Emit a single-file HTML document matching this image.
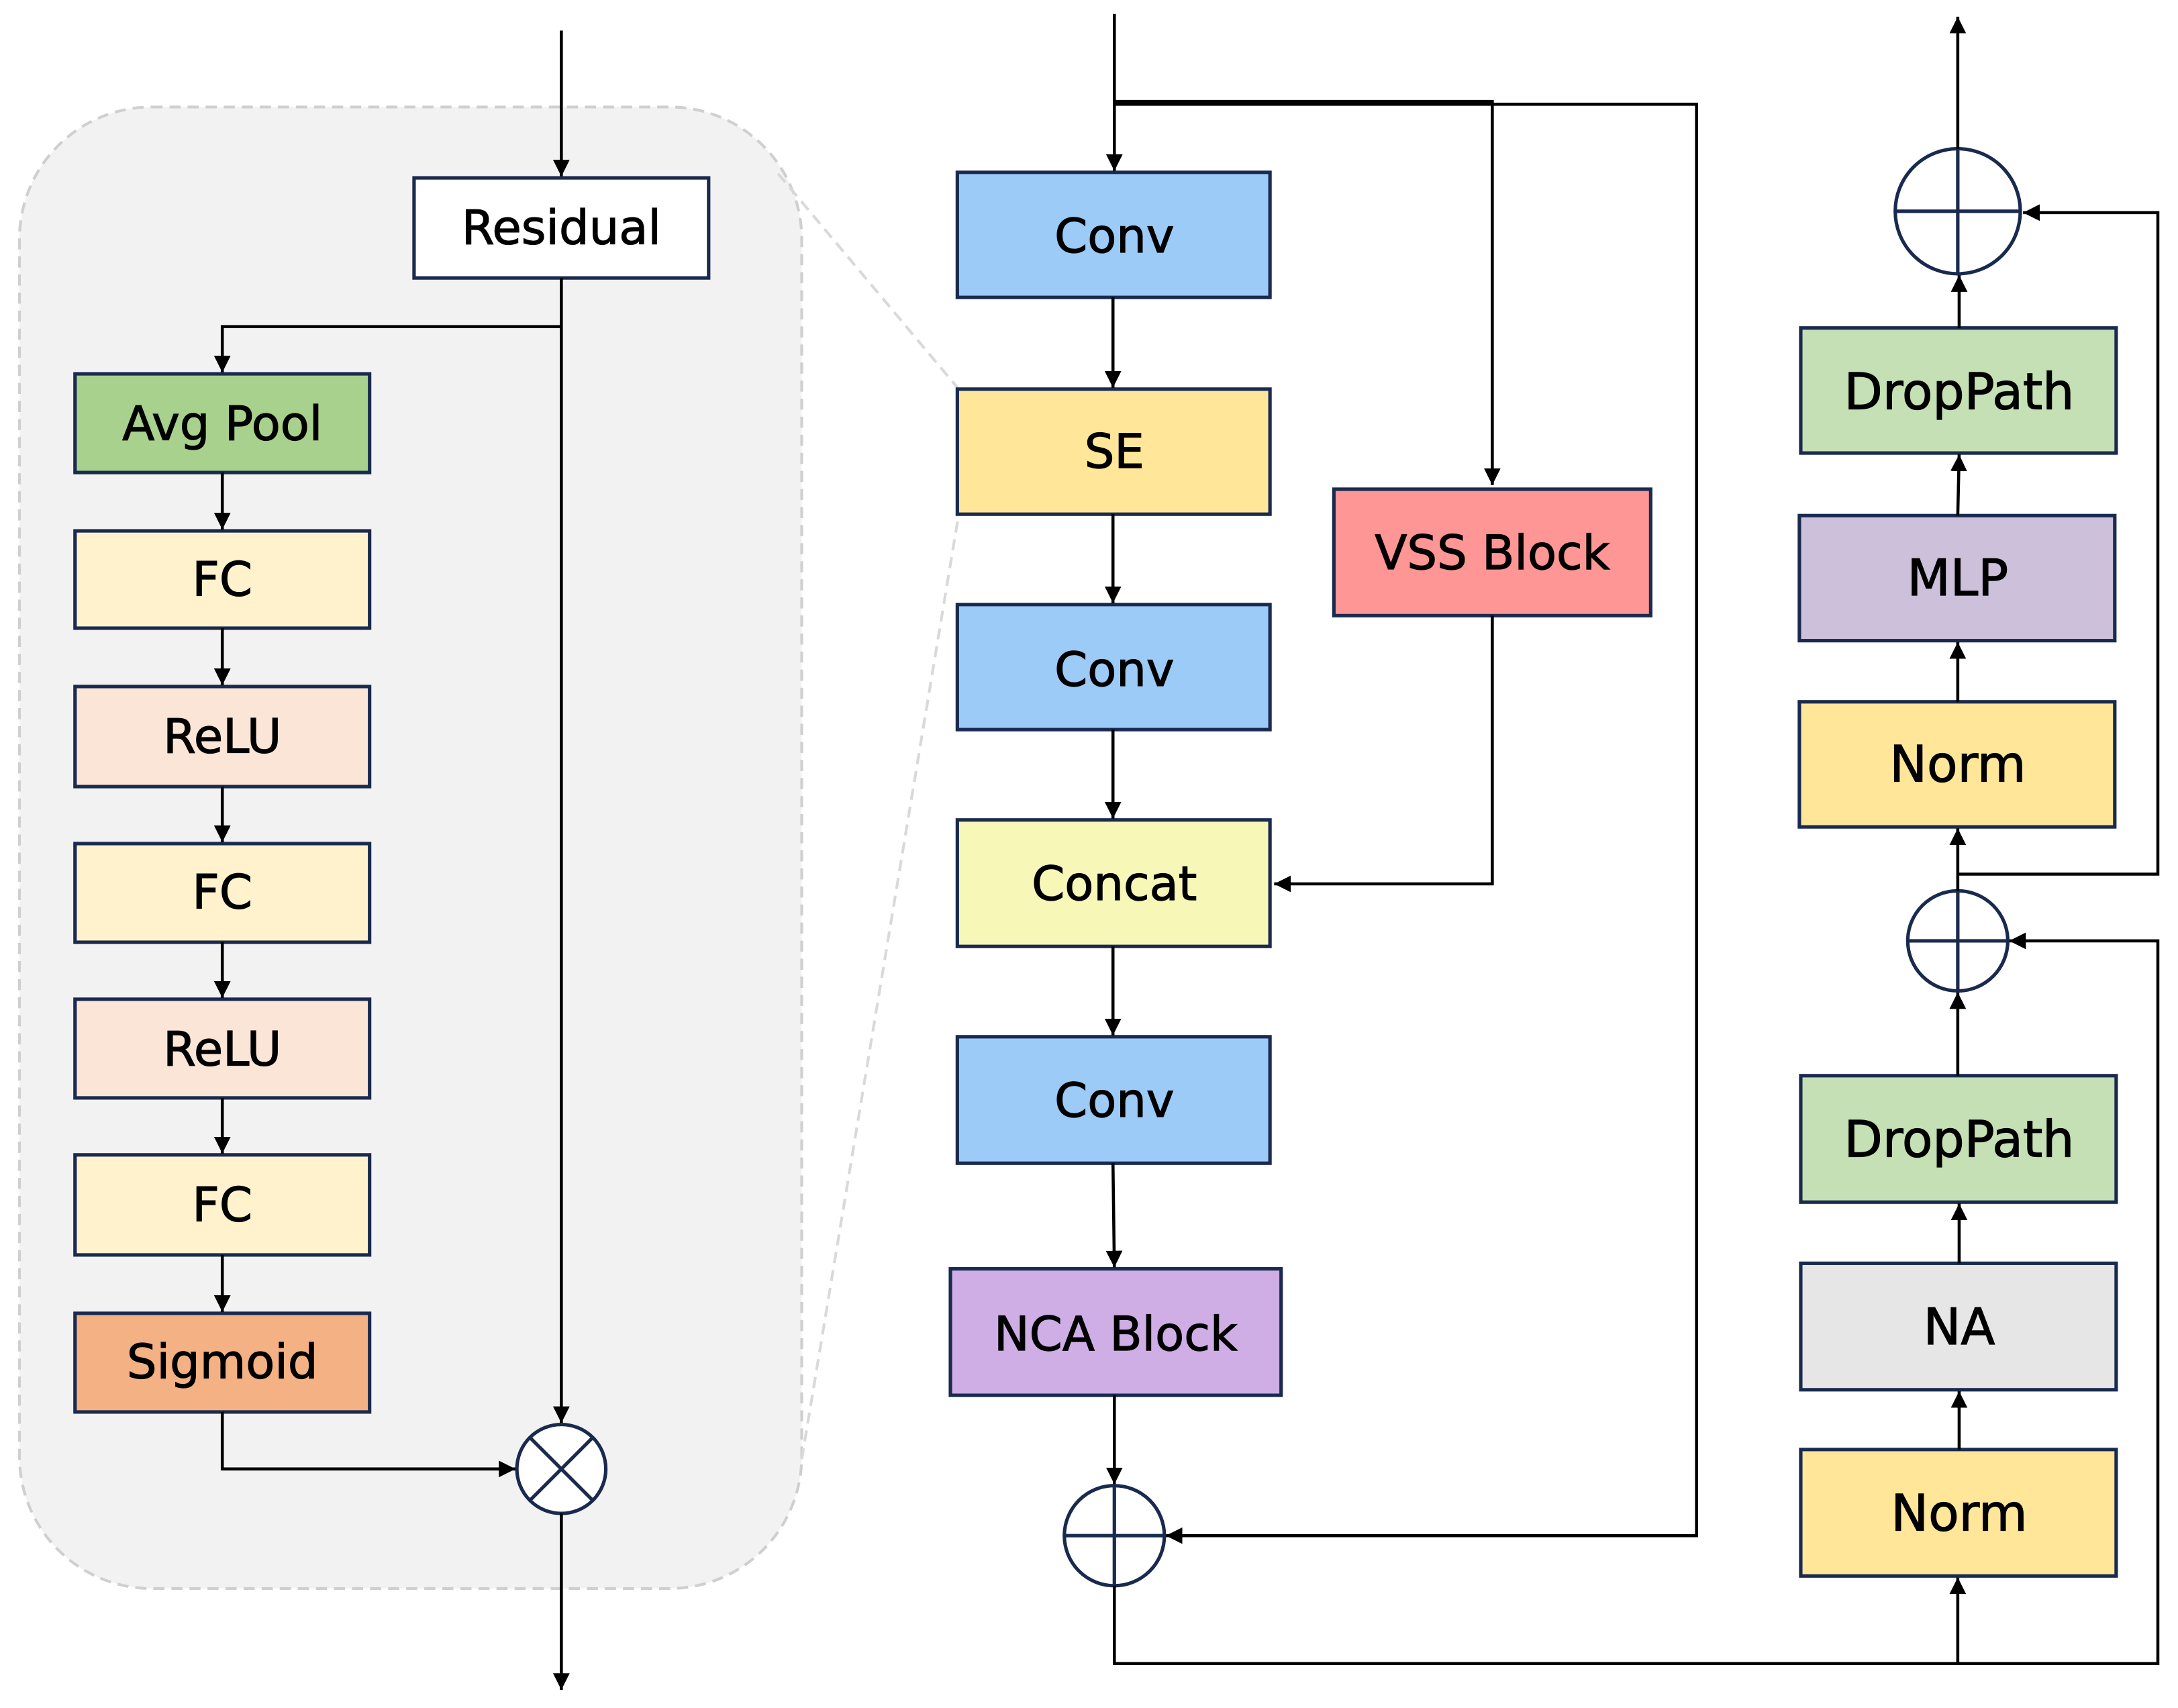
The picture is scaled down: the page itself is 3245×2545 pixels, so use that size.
<!DOCTYPE html>
<html><head><meta charset="utf-8"><style>html,body{margin:0;padding:0;background:#fff}svg{display:block}</style></head>
<body>
<svg width="3245" height="2545" viewBox="0 0 1567.5 1229" preserveAspectRatio="none" xmlns="http://www.w3.org/2000/svg">
<defs>
<marker id="b" viewBox="0 0 10 10" refX="10" refY="5" markerWidth="12" markerHeight="12" orient="auto" markerUnits="userSpaceOnUse"><path d="M0,0 L10,5 L0,10 z" fill="#000"/></marker>
</defs>
<style>
text{font-family:"DejaVu Sans","Liberation Sans",sans-serif;font-size:34px;text-anchor:middle;dominant-baseline:central;fill:#000;stroke:#000;stroke-width:0.6}
.r{font-size:36px}
.bx{stroke:#1a2a4f;stroke-width:2.5}
.ln{stroke:#000;stroke-width:2.2;fill:none}
.ci{stroke:#1a2a4f;stroke-width:2.5;fill:#fff}
</style>
<rect x="14" y="77" width="563" height="1066" rx="95" fill="#f2f2f2" stroke="#cfcfcf" stroke-width="2" stroke-dasharray="8,5"/>
<line x1="560" y1="125" x2="690" y2="280" stroke="#d9d9d9" stroke-width="2" stroke-dasharray="8,5"/>
<line x1="577" y1="1050" x2="690" y2="370" stroke="#d9d9d9" stroke-width="2" stroke-dasharray="8,5"/>

<line class="ln" x1="404" y1="22" x2="404" y2="127" marker-end="url(#b)"/>
<rect class="bx" x="298" y="128" width="212" height="72" fill="#fff"/><text x="404" y="164">Residual</text>
<line class="ln" x1="404" y1="200" x2="404" y2="1024" marker-end="url(#b)"/>
<polyline class="ln" points="404,235 160,235 160,268" marker-end="url(#b)"/>

<rect class="bx" x="54" y="269" width="212" height="71" fill="#a9d18e" stroke="#385723"/><text x="160" y="305">Avg Pool</text>
<rect class="bx" x="54" y="382" width="212" height="70" fill="#fff2cc" stroke="#595959"/><text x="160" y="417">FC</text>
<rect class="bx" x="54" y="494" width="212" height="72" fill="#fbe5d6"/><text x="160" y="530">ReLU</text>
<rect class="bx" x="54" y="607" width="212" height="71" fill="#fff2cc" stroke="#595959"/><text x="160" y="642">FC</text>
<rect class="bx" x="54" y="719" width="212" height="71" fill="#fbe5d6"/><text x="160" y="755">ReLU</text>
<rect class="bx" x="54" y="831" width="212" height="72" fill="#fff2cc" stroke="#595959"/><text x="160" y="867">FC</text>
<rect class="bx" x="54" y="945" width="212" height="71" fill="#f4b183"/><text x="160" y="980">Sigmoid</text>
<line class="ln" x1="160" y1="340" x2="160" y2="381" marker-end="url(#b)"/>
<line class="ln" x1="160" y1="452" x2="160" y2="493" marker-end="url(#b)"/>
<line class="ln" x1="160" y1="566" x2="160" y2="606" marker-end="url(#b)"/>
<line class="ln" x1="160" y1="678" x2="160" y2="718" marker-end="url(#b)"/>
<line class="ln" x1="160" y1="790" x2="160" y2="830" marker-end="url(#b)"/>
<line class="ln" x1="160" y1="903" x2="160" y2="944" marker-end="url(#b)"/>
<polyline class="ln" points="160,1016 160,1057 371,1057" marker-end="url(#b)"/>
<circle class="ci" cx="404" cy="1057" r="32"/>
<line x1="381" y1="1034" x2="427" y2="1080" stroke="#1a2a4f" stroke-width="2.5"/>
<line x1="427" y1="1034" x2="381" y2="1080" stroke="#1a2a4f" stroke-width="2.5"/>
<line class="ln" x1="404" y1="1089" x2="404" y2="1216" marker-end="url(#b)"/>

<line class="ln" x1="802" y1="10" x2="802" y2="123" marker-end="url(#b)"/>
<polyline class="ln" points="802,73 1074,73 1074,349" marker-end="url(#b)"/>
<polyline class="ln" points="802,75 1221,75 1221,1105 839,1105" marker-end="url(#b)"/>
<rect class="bx" x="689" y="124" width="225" height="90" fill="#9ccbf7"/><text x="802" y="170">Conv</text>
<rect class="bx" x="689" y="280" width="225" height="90" fill="#ffe699"/><text x="802" y="325">SE</text>
<rect class="bx" x="689" y="435" width="225" height="90" fill="#9ccbf7"/><text x="802" y="482">Conv</text>
<rect class="bx" x="689" y="590" width="225" height="91" fill="#f7f7b8" stroke="#595959"/><text x="802" y="636">Concat</text>
<rect class="bx" x="689" y="746" width="225" height="91" fill="#9ccbf7"/><text x="802" y="792">Conv</text>
<rect class="bx" x="684" y="913" width="238" height="91" fill="#cfaee6" stroke="#111"/><text x="803" y="960">NCA Block</text>
<rect class="bx" x="960" y="352" width="228" height="91" fill="#ff9696" stroke="#1a2a4f"/><text x="1074" y="398">VSS Block</text>
<polyline class="ln" points="1074,443 1074,636 917,636" marker-end="url(#b)"/>
<line class="ln" x1="801" y1="214" x2="801" y2="279" marker-end="url(#b)"/>
<line class="ln" x1="801" y1="370" x2="801" y2="434" marker-end="url(#b)"/>
<line class="ln" x1="801" y1="525" x2="801" y2="589" marker-end="url(#b)"/>
<line class="ln" x1="801" y1="681" x2="801" y2="745" marker-end="url(#b)"/>
<line class="ln" x1="801" y1="837" x2="802" y2="912" marker-end="url(#b)"/>
<line class="ln" x1="802" y1="1004" x2="802" y2="1068" marker-end="url(#b)"/>
<circle class="ci" cx="802" cy="1105" r="36"/>
<line x1="766" y1="1105" x2="838" y2="1105" stroke="#1a2a4f" stroke-width="2.5"/>
<line x1="802" y1="1069" x2="802" y2="1141" stroke="#1a2a4f" stroke-width="2.5"/>
<polyline class="ln" points="802,1141 802,1197 1553,1197 1553,677 1446,677" marker-end="url(#b)"/>
<line class="ln" x1="1409" y1="1197" x2="1409" y2="1135" marker-end="url(#b)"/>

<rect class="bx" x="1296" y="1043" width="227" height="91" fill="#ffe699"/><text class="r" x="1410" y="1089">Norm</text>
<rect class="bx" x="1296" y="909" width="227" height="91" fill="#e7e6e6"/><text class="r" x="1410" y="955">NA</text>
<rect class="bx" x="1296" y="774" width="227" height="91" fill="#c5e0b4"/><text class="r" x="1410" y="820">DropPath</text>
<rect class="bx" x="1295" y="505" width="227" height="90" fill="#ffe699"/><text class="r" x="1409" y="550">Norm</text>
<rect class="bx" x="1295" y="371" width="227" height="90" fill="#ccc0da"/><text class="r" x="1409" y="416">MLP</text>
<rect class="bx" x="1296" y="236" width="227" height="90" fill="#c5e0b4"/><text class="r" x="1410" y="282">DropPath</text>
<line class="ln" x1="1410" y1="1043" x2="1410" y2="1001" marker-end="url(#b)"/>
<line class="ln" x1="1410" y1="909" x2="1410" y2="866" marker-end="url(#b)"/>
<line class="ln" x1="1409" y1="774" x2="1409" y2="714" marker-end="url(#b)"/>
<circle class="ci" cx="1409" cy="677" r="36"/>
<line x1="1373" y1="677" x2="1445" y2="677" stroke="#1a2a4f" stroke-width="2.5"/>
<line x1="1409" y1="641" x2="1409" y2="713" stroke="#1a2a4f" stroke-width="2.5"/>
<line class="ln" x1="1409" y1="641" x2="1409" y2="596" marker-end="url(#b)"/>
<polyline class="ln" points="1409,629 1553,629 1553,153 1456,153" marker-end="url(#b)"/>
<line class="ln" x1="1409" y1="505" x2="1409" y2="462" marker-end="url(#b)"/>
<line class="ln" x1="1409" y1="371" x2="1410" y2="327" marker-end="url(#b)"/>
<line class="ln" x1="1410" y1="236" x2="1410" y2="198" marker-end="url(#b)"/>
<circle class="ci" cx="1409" cy="152" r="45"/>
<line x1="1364" y1="152" x2="1454" y2="152" stroke="#1a2a4f" stroke-width="2.5"/>
<line x1="1409" y1="107" x2="1409" y2="197" stroke="#1a2a4f" stroke-width="2.5"/>
<line class="ln" x1="1409" y1="107" x2="1409" y2="12" marker-end="url(#b)"/>
</svg>
</body></html>
